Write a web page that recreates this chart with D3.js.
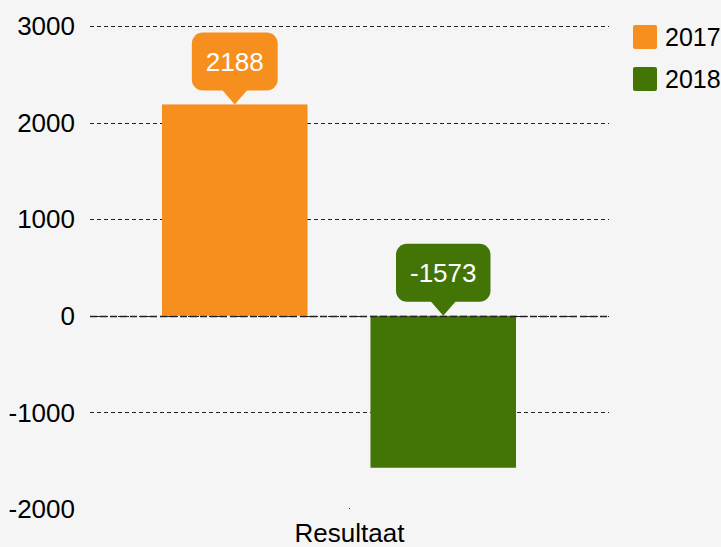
<!DOCTYPE html>
<html>
<head>
    <title>Resultaat</title>
    <script src="https://d3js.org/d3.v7.min.js"></script>
    <style>
        body { margin: 0; background: #f5f5f5; }
        svg { display: block; font-family: "Liberation Sans", Arial, sans-serif; }
    </style>
</head>
<body>
    <svg id="chart"></svg>

    <script>
        // data
        var categories = ["Resultaat"];
        var years = ["2017", "2018"];
        var values = [2188, -1573];
        var yTicks = [3000, 2000, 1000, 0, -1000, -2000];
        var colors = ["#f78f1f", "#427505"];

        var width = 721, height = 547;

        var svg = d3.select("#chart")
            .attr("width", width)
            .attr("height", height);

        svg.append("rect")
            .attr("width", width)
            .attr("height", height)
            .attr("fill", "#f5f5f5");

        // scales
        var y = d3.scaleLinear()
            .domain([-2000, 3000])
            .range([509, 26]);

        var x0 = d3.scaleBand()
            .domain(categories)
            .range([90, 609]);

        var x1 = d3.scaleBand()
            .domain(years)
            .range([72, 426])
            .paddingInner(0.302);

        var color = d3.scaleOrdinal().domain(years).range(colors);

        // gridlines
        svg.append("g")
            .selectAll("line")
            .data(yTicks.filter(d => d > -2000))
            .enter().append("line")
            .attr("x1", 90)
            .attr("x2", 609)
            .attr("y1", d => Math.round(y(d)) + 0.5)
            .attr("y2", d => Math.round(y(d)) + 0.5)
            .attr("stroke", "#222")
            .attr("stroke-width", 1)
            .attr("stroke-dasharray", "4,3");

        // y labels
        svg.append("g")
            .selectAll("text")
            .data(yTicks)
            .enter().append("text")
            .attr("x", 75)
            .attr("y", d => y(d))
            .attr("dy", "0.35em")
            .attr("text-anchor", "end")
            .attr("font-size", 26)
            .attr("fill", "#000")
            .text(d => d);

        var data = years.map((k, i) => ({ year: k, value: values[i] }));

        var group = svg.append("g")
            .attr("transform", "translate(" + x0(categories[0]) + ",0)");

        group.selectAll("rect")
            .data(data)
            .enter().append("rect")
            .attr("x", d => x1(d.year))
            .attr("y", d => y(Math.max(0, d.value)))
            .attr("width", x1.bandwidth())
            .attr("height", d => Math.abs(y(d.value) - y(0)))
            .attr("fill", d => color(d.year));

        // zero line on top
        svg.append("line")
            .attr("x1", 90)
            .attr("x2", 609)
            .attr("y1", Math.round(y(0)) + 0.5)
            .attr("y2", Math.round(y(0)) + 0.5)
            .attr("stroke", "#222")
            .attr("stroke-width", 1.5)
            .attr("stroke-dasharray", "7,3");

        // callouts
        var callouts = group.selectAll(".callout")
            .data(data)
            .enter().append("g")
            .attr("class", "callout");

        callouts.each(function(d) {
            var g = d3.select(this);
            var cx = x1(d.year) + x1.bandwidth() / 2;
            var tipY = y(Math.max(0, d.value));
            var boxH = 58, ptr = 14;
            var txt = g.append("text")
                .attr("x", cx)
                .attr("y", tipY - ptr - boxH / 2)
                .attr("dy", "0.35em")
                .attr("text-anchor", "middle")
                .attr("font-size", 26)
                .attr("fill", "#fff")
                .text(d.value);
            var w = txt.node().getComputedTextLength() + 28;
            g.insert("rect", "text")
                .attr("x", cx - w / 2)
                .attr("y", tipY - ptr - boxH)
                .attr("width", w)
                .attr("height", boxH)
                .attr("rx", 11)
                .attr("fill", color(d.year));
            g.insert("path", "text")
                .attr("d", "M" + (cx - 13) + "," + (tipY - ptr - 1) +
                    "L" + (cx + 13) + "," + (tipY - ptr - 1) +
                    "L" + cx + "," + tipY + "Z")
                .attr("fill", color(d.year));
        });

        // x tick dot and label
        var cx0 = x0(categories[0]) + x0.bandwidth() / 2;
        svg.append("rect")
            .attr("x", Math.round(cx0) - 1)
            .attr("y", 508)
            .attr("width", 1)
            .attr("height", 1)
            .attr("fill", "#333");

        svg.append("text")
            .attr("x", cx0)
            .attr("y", 542)
            .attr("text-anchor", "middle")
            .attr("font-size", 26)
            .attr("fill", "#000")
            .text(categories[0]);

        // legend
        var legend = svg.append("g")
            .selectAll("g")
            .data(years)
            .enter().append("g")
            .attr("transform", (d, i) => "translate(633," + (25 + i * 42) + ")");

        legend.append("rect")
            .attr("width", 24)
            .attr("height", 24)
            .attr("rx", 2)
            .attr("fill", d => color(d));

        legend.append("text")
            .attr("x", 32)
            .attr("y", 12)
            .attr("dy", "0.35em")
            .attr("font-size", 25)
            .attr("fill", "#000")
            .text(d => d);
    </script>
</body>
</html>
